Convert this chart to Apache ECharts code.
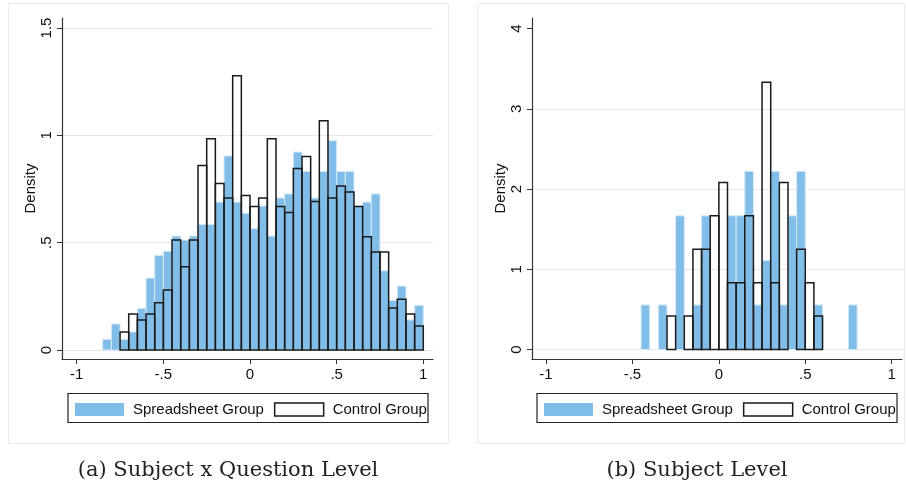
<!DOCTYPE html>
<html>
<head>
<meta charset="utf-8">
<script src="https://cdn.jsdelivr.net/npm/echarts@6/dist/echarts.min.js"></script>
<style>
  html, body { margin: 0; padding: 0; background: #fff; }
  #container { width: 906px; height: 489px; }
</style>
</head>
<body>
<div id="container"></div>
<script>
const dom = document.getElementById('container');
const myChart = echarts.init(dom);

// bin width shared by all histograms
const binWidth = 0.05;

// (a) Subject x Question level, densities per bin
const leftSpreadStart = -0.85;
const leftSpreadsheet = [0.050, 0.121, 0.050, 0.084, 0.193, 0.335, 0.441, 0.460, 0.531, 0.512,
	0.531, 0.584, 0.584, 0.689, 0.904, 0.689, 0.637, 0.565, 0.671, 0.531,
	0.708, 0.727, 0.922, 0.832, 0.708, 0.832, 0.975, 0.832, 0.832, 0.671,
	0.689, 0.727, 0.369, 0.230, 0.298, 0.140, 0.208];
const leftControlStart = -0.75;
const leftControl = [0.084, 0.168, 0.140, 0.168, 0.220, 0.279, 0.512, 0.388, 0.512, 0.860,
	0.984, 0.776, 0.708, 1.278, 0.720, 0.668, 0.708, 0.984, 0.668, 0.640,
	0.845, 0.901, 0.692, 1.068, 0.708, 0.764, 0.736, 0.668, 0.528, 0.456,
	0.456, 0.196, 0.236, 0.168, 0.112];

// (b) Subject level
const rightSpreadStart = -0.45;
const rightSpreadsheet = [0.556, 0, 0.556, 0, 1.667, 0, 0.556, 1.667, 0, 0,
	1.667, 1.667, 2.222, 0.556, 1.111, 2.222, 0.556, 1.667, 2.222, 0,
	0.556, 0, 0, 0, 0.556];
const rightControlStart = -0.30;
const rightControl = [0.417, 0, 0.417, 1.25, 1.25, 1.667, 2.083, 0.833, 0.833, 1.667,
	0.833, 3.333, 0.833, 2.083, 0, 1.25, 0.833, 0.417];

const xTicks = [-1, -0.5, 0, 0.5, 1];
const leftYTicks = [0, 0.5, 1, 1.5];
const rightYTicks = [0, 1, 2, 3, 4];

const fmt = v => (v === 0 ? '0' : String(v).replace('0.', '.'));

const toBins = (start, heights) => heights.map((h, i) => {
	const x0 = +(start + i * binWidth).toFixed(2);
	return [x0, +(x0 + binWidth).toFixed(2), h];
});

const blue = '#80BDE8';
const font = 'Liberation Sans, Arial, Helvetica, sans-serif';

function renderBar(outline) {
	return function (params, api) {
		const h = api.value(2);
		if (!h) return null;
		const p0 = api.coord([api.value(0), h]);
		const p1 = api.coord([api.value(1), 0]);
		const shape = { x: p0[0], y: p0[1], width: p1[0] - p0[0], height: p1[1] - p0[1] };
		if (outline) {
			return { type: 'rect', shape, style: { fill: 'none', stroke: '#1a1a1a', lineWidth: 1.5 } };
		}
		return { type: 'rect', shape, style: { fill: blue, stroke: '#d3e8f7', lineWidth: 1 } };
	};
}

function xAxis(gridIndex, min, max) {
	return {
		gridIndex, type: 'value', min, max,
		axisLine: { onZero: false, lineStyle: { color: '#333', width: 1.2 } },
		axisTick: { length: 5, customValues: xTicks, lineStyle: { color: '#333' } },
		axisLabel: { customValues: xTicks, formatter: fmt, margin: 8, color: '#111', fontSize: 15, fontFamily: font },
		splitLine: { show: false },
	};
}

function yAxis(gridIndex, min, max, ticks, gridColors) {
	return {
		gridIndex, type: 'value', min, max,
		name: 'Density', nameLocation: 'middle', nameGap: 22,
		nameTextStyle: { color: '#111', fontSize: 15, fontFamily: font },
		axisLine: { show: true, onZero: false, lineStyle: { color: '#333', width: 1.2 } },
		axisTick: { show: true, length: 5, customValues: ticks, lineStyle: { color: '#333' } },
		axisLabel: { customValues: ticks, rotate: 90, formatter: fmt, margin: 8, color: '#111', fontSize: 15, fontFamily: font },
		splitLine: { show: true, lineStyle: { color: gridColors, width: 1.2 } },
	};
}

function legend(left) {
	return {
		left, top: 402, width: 400, orient: 'horizontal', icon: 'rect', padding: 0,
		itemWidth: 49, itemHeight: 13, itemGap: 10,
		selectedMode: false,
		textStyle: { color: '#111', fontSize: 15, fontFamily: font, padding: [0, 0, 0, 4] },
		data: [
			{ name: 'Spreadsheet Group', itemStyle: { color: blue } },
			{ name: 'Control Group', itemStyle: { color: '#fff', borderColor: '#1a1a1a', borderWidth: 1.5 } },
		],
	};
}

const g = '#e6e6e6';

const option = {
	animation: false,
	backgroundColor: '#fff',
	grid: [
		{ left: 62, top: 18, width: 371, height: 341 },
		{ left: 532, top: 18, width: 370, height: 341 },
	],
	xAxis: [xAxis(0, -1.085, 1.056), xAxis(1, -1.081, 1.0596)],
	yAxis: [
		yAxis(0, -0.0419, 1.5466, leftYTicks, [g]),
		yAxis(1, -0.118, 4.133, rightYTicks, [g, g, g, g, 'rgba(0,0,0,0)']),
	],
	legend: [legend(75), legend(544)],
	series: [
		{ name: 'Spreadsheet Group', type: 'custom', xAxisIndex: 0, yAxisIndex: 0, itemStyle: { color: blue },
			renderItem: renderBar(false), data: toBins(leftSpreadStart, leftSpreadsheet) },
		{ name: 'Control Group', type: 'custom', xAxisIndex: 0, yAxisIndex: 0, itemStyle: { color: '#fff' },
			renderItem: renderBar(true), data: toBins(leftControlStart, leftControl) },
		{ name: 'Spreadsheet Group', type: 'custom', xAxisIndex: 1, yAxisIndex: 1, itemStyle: { color: blue },
			renderItem: renderBar(false), data: toBins(rightSpreadStart, rightSpreadsheet) },
		{ name: 'Control Group', type: 'custom', xAxisIndex: 1, yAxisIndex: 1, itemStyle: { color: '#fff' },
			renderItem: renderBar(true), data: toBins(rightControlStart, rightControl) },
	],
	graphic: [
		{ type: 'rect', shape: { x: 8.5, y: 3.5, width: 440, height: 440 }, style: { fill: 'none', stroke: '#ececec', lineWidth: 1 }, silent: true },
		{ type: 'rect', shape: { x: 477.5, y: 3.5, width: 427, height: 440 }, style: { fill: 'none', stroke: '#ececec', lineWidth: 1 }, silent: true },
		{ type: 'rect', shape: { x: 68, y: 393.5, width: 360, height: 29 }, style: { fill: 'none', stroke: '#222', lineWidth: 1.2 }, silent: true },
		{ type: 'rect', shape: { x: 537, y: 393.5, width: 360, height: 29 }, style: { fill: 'none', stroke: '#222', lineWidth: 1.2 }, silent: true },
		{ type: 'text', x: 228, y: 471, style: { text: '(a) Subject x Question Level', textAlign: 'center', textVerticalAlign: 'middle', font: '21px "DejaVu Serif", serif', fill: '#222' } },
		{ type: 'text', x: 697, y: 471, style: { text: '(b) Subject Level', textAlign: 'center', textVerticalAlign: 'middle', font: '21px "DejaVu Serif", serif', fill: '#222' } },
	],
};

if (option && typeof option === 'object') {
	myChart.setOption(option);
}
</script>
</body>
</html>
